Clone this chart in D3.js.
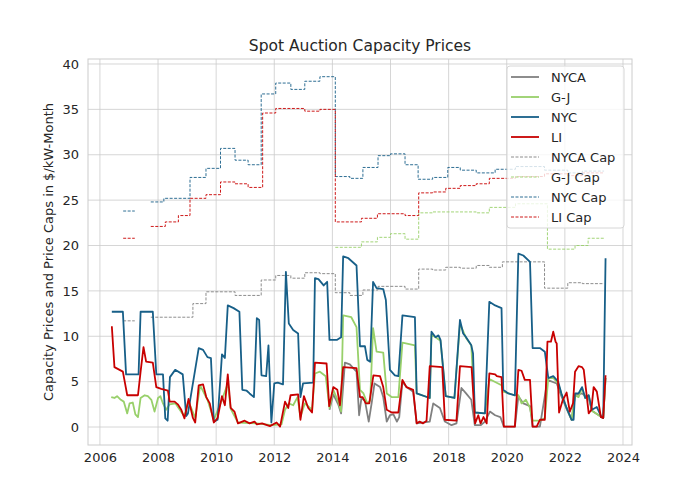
<!DOCTYPE html>
<html><head><meta charset="utf-8">
<script src="https://cdn.jsdelivr.net/npm/d3@7"></script>
<style>
body{margin:0;background:#fff;font-family:"DejaVu Sans",sans-serif;}
</style></head><body>
<svg id="chart" width="700" height="500"></svg>
<script>
// [decimal year, $/kW-month]
const nyc = [[2006.41,12.7],[2006.79,12.7],[2006.9,5.8],[2007.33,5.8],[2007.4,12.7],[2007.82,12.7],[2007.94,5.8],[2008.17,5.8],[2008.25,0.95],[2008.33,0.7],[2008.41,5.5],[2008.59,6.3],[2008.85,5.8],[2008.97,1.2],[2009.03,1.5],[2009.4,8.7],[2009.55,8.5],[2009.7,7.7],[2009.82,7.6],[2009.92,0.6],[2010.05,0.8],[2010.2,8.0],[2010.3,7.6],[2010.4,13.4],[2010.6,13.1],[2010.8,12.7],[2010.9,4.1],[2011.05,4.0],[2011.15,3.7],[2011.3,3.3],[2011.4,12.0],[2011.48,11.8],[2011.56,5.7],[2011.72,5.6],[2011.8,9.0],[2011.9,0.5],[2012.0,4.8],[2012.12,4.9],[2012.3,4.7],[2012.4,17.1],[2012.5,11.4],[2012.65,10.7],[2012.82,10.3],[2012.9,3.3],[2012.99,4.8],[2013.34,4.9],[2013.4,16.4],[2013.52,16.3],[2013.7,15.6],[2013.82,16.0],[2013.9,9.6],[2014.15,9.6],[2014.3,9.9],[2014.37,18.8],[2014.55,18.6],[2014.83,17.8],[2014.95,8.9],[2015.12,8.9],[2015.2,7.4],[2015.3,7.2],[2015.4,16.0],[2015.52,15.3],[2015.75,15.2],[2015.84,14.0],[2015.98,6.3],[2016.15,5.7],[2016.27,5.6],[2016.41,12.3],[2016.84,12.1],[2016.9,3.7],[2017.35,3.2],[2017.41,10.5],[2017.55,9.9],[2017.65,10.1],[2017.72,9.6],[2017.9,3.4],[2018.2,3.2],[2018.39,11.8],[2018.5,10.3],[2018.6,9.9],[2018.78,9.0],[2018.84,8.1],[2018.9,1.6],[2019.25,1.5],[2019.4,13.8],[2019.6,13.4],[2019.82,13.1],[2019.88,4.1],[2020.05,3.7],[2020.28,3.5],[2020.4,19.1],[2020.57,18.9],[2020.8,18.2],[2020.89,8.7],[2021.14,8.7],[2021.31,8.3],[2021.43,5.4],[2021.6,5.6],[2021.77,5.0],[2021.88,3.7],[2022.06,2.1],[2022.23,0.8],[2022.3,0.8],[2022.35,3.7],[2022.47,3.7],[2022.59,4.4],[2022.7,3.2],[2022.82,3.5],[2022.93,1.9],[2023.1,2.2],[2023.26,1.1],[2023.32,1.0],[2023.4,18.6]];
const li = [[2006.41,11.1],[2006.5,6.6],[2006.79,6.1],[2006.94,3.5],[2007.31,3.5],[2007.4,6.1],[2007.5,8.8],[2007.59,7.2],[2007.82,7.1],[2007.94,4.4],[2008.11,4.2],[2008.34,4.0],[2008.4,2.8],[2008.57,2.8],[2008.68,2.5],[2008.8,1.9],[2008.91,0.95],[2009.05,3.1],[2009.2,1.0],[2009.28,0.5],[2009.4,4.6],[2009.55,4.7],[2009.66,3.3],[2009.78,2.6],[2009.92,0.5],[2010.05,1.0],[2010.2,3.4],[2010.3,2.4],[2010.4,5.8],[2010.5,2.1],[2010.63,1.7],[2010.75,0.4],[2010.98,0.7],[2011.15,0.4],[2011.32,0.6],[2011.4,0.3],[2011.58,0.4],[2011.85,0.1],[2012.08,0.5],[2012.2,0.05],[2012.37,2.8],[2012.48,2.1],[2012.56,3.5],[2012.82,3.6],[2012.9,0.8],[2013.02,3.4],[2013.17,2.1],[2013.3,1.6],[2013.4,7.1],[2013.8,7.0],[2013.89,2.3],[2014.03,4.4],[2014.17,4.1],[2014.26,2.4],[2014.37,6.6],[2014.83,6.5],[2014.95,3.3],[2015.04,3.3],[2015.15,2.6],[2015.27,2.6],[2015.41,5.7],[2015.64,5.6],[2015.75,4.4],[2015.87,1.9],[2016.04,1.6],[2016.27,1.6],[2016.41,5.2],[2016.55,4.4],[2016.78,4.1],[2016.9,0.4],[2017.0,0.6],[2017.12,0.4],[2017.24,0.7],[2017.35,6.7],[2017.78,6.6],[2017.87,0.8],[2018.27,0.7],[2018.39,6.7],[2018.79,6.6],[2018.91,0.4],[2019.02,1.3],[2019.1,0.4],[2019.2,1.1],[2019.31,0.4],[2019.4,5.9],[2019.6,5.8],[2019.66,5.6],[2019.82,5.5],[2019.9,0.05],[2020.28,0.05],[2020.4,6.3],[2020.51,6.2],[2020.62,5.2],[2020.8,5.2],[2020.89,0.05],[2021.03,0.05],[2021.14,0.8],[2021.31,0.8],[2021.4,9.4],[2021.52,9.4],[2021.6,10.5],[2021.68,9.4],[2021.72,9.2],[2021.8,1.6],[2021.92,2.9],[2022.06,3.8],[2022.17,1.7],[2022.28,2.6],[2022.35,6.1],[2022.47,6.7],[2022.59,6.6],[2022.65,6.3],[2022.82,1.5],[2022.91,1.9],[2022.99,4.4],[2023.1,3.9],[2023.24,1.1],[2023.32,1.0],[2023.4,5.7]];
const gj = [[2006.39,3.3],[2006.5,3.2],[2006.59,3.4],[2006.72,3.0],[2006.82,2.8],[2006.94,1.5],[2007.02,2.6],[2007.13,2.7],[2007.22,1.4],[2007.31,1.1],[2007.4,3.2],[2007.54,3.5],[2007.65,3.4],[2007.77,3.0],[2007.88,1.7],[2008.0,3.2],[2008.08,3.4],[2008.17,2.6],[2008.28,1.9],[2008.4,2.5],[2008.6,2.6],[2008.9,1.2],[2009.05,2.8],[2009.28,1.0],[2009.45,4.6],[2009.7,3.0],[2009.92,0.8],[2010.2,3.0],[2010.4,4.8],[2010.5,2.0],[2010.75,0.5],[2011.4,0.4],[2011.9,0.2],[2012.25,0.3],[2012.37,1.9],[2012.5,2.6],[2012.65,2.4],[2012.8,3.3],[2012.9,1.1],[2013.05,2.6],[2013.3,1.9],[2013.4,5.9],[2013.57,6.1],[2013.77,5.6],[2013.9,2.1],[2014.03,4.1],[2014.2,2.8],[2014.3,1.7],[2014.37,12.3],[2014.65,12.1],[2014.83,11.0],[2014.95,4.1],[2015.07,3.7],[2015.2,2.6],[2015.3,2.9],[2015.4,10.9],[2015.52,8.3],[2015.75,8.2],[2015.87,3.7],[2016.04,3.3],[2016.27,3.3],[2016.41,9.3],[2016.84,9.0],[2016.9,3.7],[2017.35,3.2],[2017.41,10.2],[2017.72,9.5],[2017.9,3.4],[2018.2,3.2],[2018.39,11.4],[2018.6,9.8],[2018.78,9.0],[2018.9,1.6],[2019.25,1.5],[2019.4,5.3],[2019.82,4.6],[2019.88,3.9],[2020.28,3.5],[2020.4,3.5],[2020.51,2.6],[2020.66,3.0],[2020.8,2.1],[2020.89,0.7],[2021.14,0.7],[2021.31,1.0],[2021.43,5.4],[2021.6,5.4],[2021.77,4.8],[2021.88,3.7],[2022.06,2.1],[2022.23,0.8],[2022.35,3.5],[2022.47,3.3],[2022.59,4.3],[2022.7,3.2],[2022.82,3.5],[2022.93,1.8],[2023.26,1.1],[2023.32,1.0],[2023.4,5.4]];
const nyca = [[2013.9,1.9],[2014.03,3.6],[2014.2,2.5],[2014.3,1.5],[2014.43,7.1],[2014.6,6.9],[2014.83,6.1],[2014.92,1.3],[2015.0,3.2],[2015.12,2.9],[2015.25,0.6],[2015.35,2.6],[2015.45,4.8],[2015.64,4.4],[2015.75,3.3],[2015.87,0.6],[2015.98,1.3],[2016.1,1.4],[2016.22,0.6],[2016.3,1.1],[2016.41,5.0],[2016.55,4.4],[2016.78,3.9],[2016.9,0.4],[2017.35,0.6],[2017.47,2.6],[2017.7,2.1],[2017.87,0.6],[2018.1,0.2],[2018.27,0.4],[2018.44,4.3],[2018.6,3.7],[2018.78,3.0],[2018.9,0.2],[2019.1,0.2],[2019.25,0.6],[2019.42,1.7],[2019.6,1.3],[2019.78,1.1],[2019.9,0.05],[2020.28,0.05],[2020.4,3.4],[2020.57,2.6],[2020.8,2.3],[2020.89,0.05],[2021.14,0.05],[2021.4,5.2],[2021.72,4.8],[2021.88,3.4],[2022.06,2.0],[2022.23,0.8],[2022.35,3.5],[2022.59,3.7],[2022.82,3.2],[2022.93,1.8],[2023.26,1.1],[2023.32,1.0],[2023.4,5.4]];

// caps: step-after points, null value = gap
const nycCap = [[2006.8,23.8],[2007.2,null],[2007.75,24.8],[2008.2,25.2],[2009.1,27.5],[2009.65,28.5],[2010.15,30.7],[2010.65,29.4],[2011.1,28.9],[2011.55,36.7],[2012.05,37.9],[2012.57,37.2],[2013.05,38.1],[2013.57,38.6],[2014.1,27.6],[2014.6,27.4],[2015.05,28.6],[2015.57,29.9],[2016.0,30.1],[2016.5,28.9],[2016.95,27.3],[2017.45,27.5],[2017.97,28.6],[2018.4,28.3],[2018.95,28.0],[2019.6,28.4],[2020.3,28.7],[2021.3,28.3],[2022.1,28.0],[2022.6,28.2],[2023.35,28.2]];
const liCap = [[2006.8,20.8],[2007.2,null],[2007.75,22.1],[2008.25,22.6],[2008.7,23.3],[2009.1,25.2],[2009.65,25.6],[2010.15,27.0],[2010.65,26.8],[2011.1,26.4],[2011.6,34.6],[2012.05,35.1],[2013.05,34.8],[2013.57,35.0],[2014.1,22.6],[2015.0,23.0],[2015.55,23.5],[2016.5,23.3],[2016.97,25.8],[2017.45,25.9],[2017.9,26.3],[2018.4,26.6],[2018.95,26.8],[2019.4,27.4],[2020.3,27.6],[2021.3,27.9],[2022.1,27.7],[2022.6,28.0],[2023.35,28.0]];
const gjCap = [[2014.1,19.8],[2015.0,20.4],[2015.55,20.9],[2016.0,21.3],[2016.5,20.7],[2016.97,23.6],[2017.45,23.7],[2018.95,23.6],[2019.4,24.2],[2020.3,24.6],[2021.4,19.6],[2022.35,20.0],[2022.8,20.8],[2023.35,20.8]];
const nycaCap = [[2006.8,11.7],[2007.2,null],[2007.75,12.1],[2009.2,13.6],[2009.65,14.9],[2010.65,14.5],[2011.55,16.2],[2012.05,16.7],[2012.57,16.4],[2013.05,17.0],[2013.57,16.9],[2014.1,14.8],[2014.6,14.5],[2015.05,15.1],[2015.57,15.5],[2016.5,15.2],[2016.97,17.4],[2017.45,17.3],[2017.9,17.6],[2018.4,17.5],[2018.95,17.8],[2019.4,17.6],[2019.85,18.2],[2021.3,15.3],[2022.1,15.9],[2022.6,15.8],[2023.35,15.8]];

const xTicks = [2006, 2008, 2010, 2012, 2014, 2016, 2018, 2020, 2022, 2024];
const yTicks = [0, 5, 10, 15, 20, 25, 30, 35, 40];

const series = [
    { name: "NYCA", data: nyca, color: "#808080", cap: false },
    { name: "G-J", data: gj, color: "#98d06a", cap: false },
    { name: "NYC", data: nyc, color: "#175f88", cap: false },
    { name: "LI", data: li, color: "#c80000", cap: false },
    { name: "NYCA Cap", data: nycaCap, color: "#808080", cap: true },
    { name: "G-J Cap", data: gjCap, color: "#98d06a", cap: true },
    { name: "NYC Cap", data: nycCap, color: "#175f88", cap: true },
    { name: "LI Cap", data: liCap, color: "#c80000", cap: true },
];

const pl = 88, pr = 632, pt = 59, pb = 445;
const svg = d3.select("#chart");

const x = d3.scaleLinear().domain([2005.59, 2024.31]).range([pl, pr]);
const y = d3.scaleLinear().domain([-1.98, 40.55]).range([pb, pt]);

// grid
svg.append("g").selectAll("line").data(xTicks).join("line")
    .attr("x1", d => x(d)).attr("x2", d => x(d)).attr("y1", pt).attr("y2", pb)
    .attr("stroke", "#cccccc").attr("stroke-width", 0.8);
svg.append("g").selectAll("line").data(yTicks).join("line")
    .attr("y1", d => y(d)).attr("y2", d => y(d)).attr("x1", pl).attr("x2", pr)
    .attr("stroke", "#cccccc").attr("stroke-width", 0.8);
svg.append("rect").attr("x", pl).attr("y", pt).attr("width", pr - pl).attr("height", pb - pt)
    .attr("fill", "none").attr("stroke", "#cccccc").attr("stroke-width", 1);

// axes (labels only, seaborn style)
const xAxis = svg.append("g").attr("transform", `translate(0,${pb})`)
    .call(d3.axisBottom(x).tickValues(xTicks).tickFormat(d3.format("d")).tickSize(0).tickPadding(8));
const yAxis = svg.append("g").attr("transform", `translate(${pl},0)`)
    .call(d3.axisLeft(y).tickValues(yTicks).tickSize(0).tickPadding(9));
[xAxis, yAxis].forEach(a => {
    a.select(".domain").remove();
    a.selectAll("text").attr("font-size", 13).attr("fill", "#262626").attr("font-family", "DejaVu Sans, sans-serif");
});

const line = d3.line().defined(d => d[1] !== null).x(d => x(d[0])).y(d => y(d[1]));
const stepLine = d3.line().defined(d => d[1] !== null).curve(d3.curveStepAfter).x(d => x(d[0])).y(d => y(d[1]));

// caps first so prices sit on top
series.filter(s => s.cap).forEach(s => {
    // step lines need the gap ends to carry the previous value
    const pts = [];
    s.data.forEach((d, i) => {
        if (d[1] === null) pts.push([d[0], s.data[i - 1][1]], [d[0], null]);
        else pts.push(d);
    });
    svg.append("path").attr("d", stepLine(pts))
        .attr("fill", "none").attr("stroke", s.color).attr("stroke-width", 0.9)
        .attr("stroke-dasharray", "3,1.5");
});
series.filter(s => !s.cap).forEach(s => {
    svg.append("path").attr("d", line(s.data))
        .attr("fill", "none").attr("stroke", s.color).attr("stroke-width", 1.8)
        .attr("stroke-linejoin", "round");
});

svg.append("text").attr("x", (pl + pr) / 2).attr("y", 51).attr("text-anchor", "middle")
    .attr("font-size", 15.5).attr("fill", "#262626").text("Spot Auction Capacity Prices");
svg.append("text").attr("transform", `translate(53,${(pt + pb) / 2}) rotate(-90)`)
    .attr("text-anchor", "middle").attr("font-size", 13).attr("fill", "#262626")
    .text("Capacity Prices and Price Caps in $/kW-Month");

// legend
const lg = svg.append("g").attr("transform", "translate(507,66)");
lg.append("rect").attr("width", 117).attr("height", 162).attr("rx", 3)
    .attr("fill", "#ffffff").attr("fill-opacity", 0.8).attr("stroke", "#d6d6d6");
series.forEach((s, i) => {
    const yy = 11 + i * 20;
    lg.append("line").attr("x1", 4).attr("x2", 32).attr("y1", yy).attr("y2", yy)
        .attr("stroke", s.color).attr("stroke-width", s.cap ? 0.9 : 1.8)
        .attr("stroke-dasharray", s.cap ? "3,1.5" : null);
    lg.append("text").attr("x", 44).attr("y", yy + 5).attr("font-size", 13)
        .attr("fill", "#262626").text(s.name);
});
</script>
</body></html>
